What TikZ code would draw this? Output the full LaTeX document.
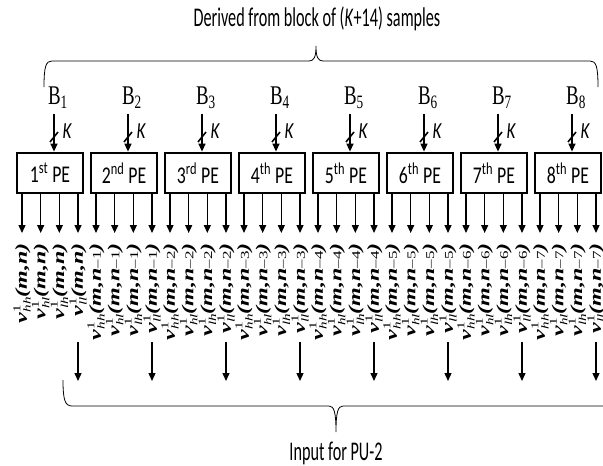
\documentclass[tikz,border=0pt]{standalone}
\usepackage{fontspec}
\setmainfont{Liberation Serif}
\newfontfamily\csans[FakeStretch=0.6]{Carlito}
\newfontfamily\csansb[FakeStretch=0.74]{Carlito}
\newfontfamily\cserif[FakeStretch=0.7]{Liberation Serif}
\usetikzlibrary{arrows.meta}
\newcommand\smallfs{\fontsize{15}{15}\selectfont}
\newcommand\midfs{\fontsize{17}{17}\selectfont}
\newcommand\vlab[2]{\scalebox{1}[0.7]{\fontsize{24}{26}\selectfont\textbf{\textit{v}}\rlap{\raisebox{0.85ex}{\smallfs 1}}\raisebox{-0.5ex}{\smallfs\textit{#1}}\textbf{\textit{(m,n}}{\midfs #2}\textbf{\textit{)}}}}
\tikzset{
  pebox/.style={draw, line width=2.8pt, minimum width=66pt, minimum height=40pt, inner sep=0pt, font=\csansb\fontsize{24}{25}\selectfont},
  arr/.style={line width=1.3pt, -{Triangle[length=8pt,width=7pt]}},
  brace/.style={line width=0.8pt},
  blab/.style={font=\cserif\fontsize{27}{28}\selectfont, inner sep=0pt},
  klab/.style={font=\csansb\itshape\fontsize{23}{24}\selectfont, inner sep=0pt},
  vlabel/.style={rotate=90, anchor=east, inner sep=0pt},
  title/.style={font=\csans\fontsize{27}{28}\selectfont, inner sep=0pt}
}
\begin{document}
\begin{tikzpicture}[x={(1pt,0)}, y={(0,-1pt)}]
\useasboundingbox (0,0) rectangle (603,466);
\node[title] (top) at (317,19) {Derived from block of (\textit{K}+14) samples};
\draw[brace] (44,87) .. controls (44,66) and (46,61) .. (52,61) -- (309,61) .. controls (314,61) and (316,57) .. (316,46) .. controls (316,57) and (318,61) .. (323,61) -- (590,61) .. controls (596,61) and (598,66) .. (598,87);
\foreach \k/\sup/\nn in {0/st/, 1/nd/{\textendash1}, 2/rd/{\textendash2}, 3/th/{\textendash3}, 4/th/{\textendash4}, 5/th/{\textendash5}, 6/th/{\textendash6}, 7/th/{\textendash7}}{
  \pgfmathsetmacro{\L}{17+74*\k}
  \pgfmathtruncatemacro{\num}{\k+1}
  \node[pebox] (pe\k) at (\L+33,173) {\num\textsuperscript{\sup} PE};
  \node[blab] (b\k) at (\L+41,98) {B\textsubscript{\num}};
  \coordinate (in\k) at (\L+37,114);
  \draw[arr] (in\k) -- (in\k |- pe\k.north);
  \coordinate (sa\k) at (\L+33,142);
  \coordinate (sb\k) at (\L+41,132);
  \draw[line width=1.6pt] (sa\k) -- (sb\k);
  \node[klab] (k\k) at (\L+50,131) {K};
  \foreach \j/\s in {0/hh, 1/hl, 2/lh, 3/ll}{
    \coordinate (o\k\j) at (\L+5+18.67*\j,233);
    \draw[arr] (o\k\j |- pe\k.south) -- (o\k\j);
    \node[vlabel] (v\k\j) at (\L+5+18.67*\j,243) {\vlab{\s}{\nn}};
  }
  \coordinate (da\k) at (\L+61,342);
  \coordinate (db\k) at (\L+61,381);
  \draw[arr] (da\k) -- (db\k);
}
\draw[brace] (63,380) .. controls (63,400) and (65,406) .. (72,406) -- (329,406) .. controls (334,406) and (336,412) .. (336,432) .. controls (336,412) and (338,406) .. (343,406) -- (612,406);
\node[title] (bot) at (336,453) {Input for PU-2};
\end{tikzpicture}
\end{document}
